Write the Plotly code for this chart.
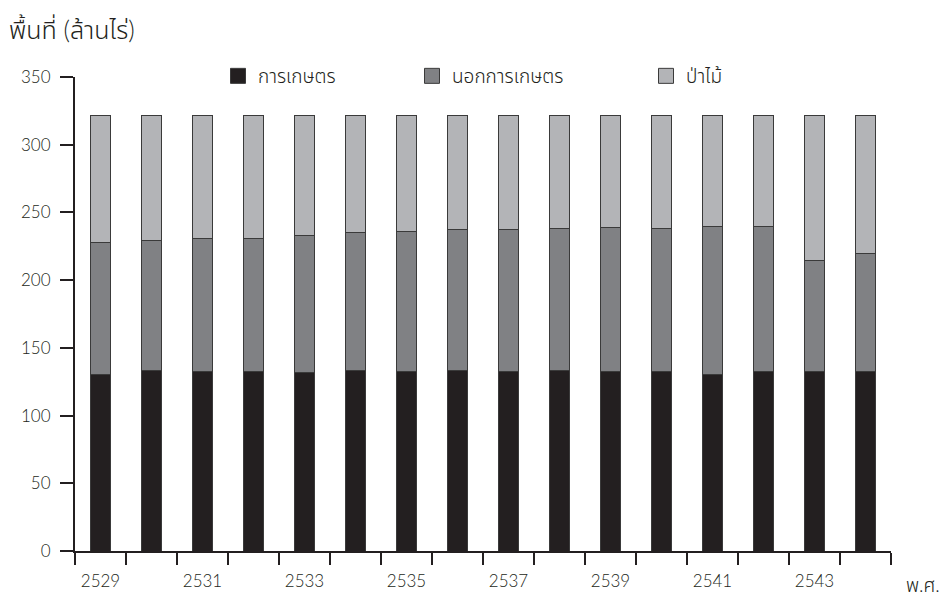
import plotly.graph_objects as go

years = [str(y) for y in range(2529, 2545)]
tick_labels = [y if i % 2 == 0 else "" for i, y in enumerate(years)]

agri = [130.4, 133.1, 132.3, 132.3, 131.9, 133.4, 132.3, 133.4,
        132.3, 133.6, 132.3, 132.3, 130.4, 132.3, 132.3, 132.3]
nonagri = [97.1, 95.9, 98.2, 98.2, 101.3, 101.5, 103.6, 103.7,
           104.8, 104.5, 106.6, 105.8, 109.4, 107.5, 81.9, 87.1]
forest = [94.0, 92.5, 91.0, 91.0, 88.3, 86.6, 85.6, 84.4,
          84.4, 83.4, 82.6, 83.4, 81.7, 81.7, 107.3, 102.1]

names = ["การเกษตร", "นอกการเกษตร", "ป่าไม้"]
colors = ["#231f20", "#808184", "#b3b4b7"]
series = [agri, nonagri, forest]

FONT = ("Lato, 'Noto Sans Thai', 'Noto Sans Thai UI', Loma, Garuda, Umpush, "
        "Sarabun, 'Noto Sans', sans-serif")
INK = "#231f20"
EDGE = "#3a3a3a"
W8 = 300

fig = go.Figure()
for nm, col, vals in zip(names, colors, series):
    fig.add_trace(go.Bar(x=years, y=vals, name=nm, showlegend=False,
                         hoverinfo="skip",
                         marker=dict(color=col, line=dict(color=EDGE, width=1))))

legend_ids = ["legend", "legend2", "legend3"]
for nm, col, lg in zip(names, colors, legend_ids):
    fig.add_trace(go.Scatter(x=[None], y=[None], mode="markers", name=nm,
                             legend=lg, showlegend=True,
                             marker=dict(symbol="square", size=15, color=col,
                                         line=dict(color=EDGE, width=1))))

L, R, T, B = 75, 52, 77, 51
W, H = 943, 602
pw = W - L - R
ph = H - T - B

def px_x(p):
    return (p - L) / pw

def px_y(p):
    return (H - B - p) / ph

leg_common = dict(orientation="h", yanchor="middle", xanchor="left",
                  bgcolor="rgba(0,0,0,0)", itemsizing="trace",
                  font=dict(family=FONT, size=19, color=INK, weight=W8))
sq_x = [230, 424, 658]

layout_legends = {}
for lg, sx in zip(legend_ids, sq_x):
    layout_legends[lg] = dict(leg_common, x=px_x(sx - 12), y=px_y(76))

fig.update_layout(
    width=W, height=H,
    margin=dict(l=L, r=R, t=T, b=B),
    paper_bgcolor="white", plot_bgcolor="white",
    barmode="stack", bargap=0.59,
    font=dict(family=FONT, size=17, color=INK, weight=W8),
    **layout_legends,
)

fig.update_xaxes(
    type="category", tickmode="array", tickvals=years, ticktext=tick_labels,
    tickson="boundaries", ticks="outside", ticklen=12, tickwidth=2,
    tickcolor=INK, showline=True, linecolor=INK, linewidth=2,
    showgrid=False, zeroline=False, ticklabelstandoff=14,
    range=[-0.5, 15.5], tickfont=dict(family=FONT, size=17, color=INK, weight=W8),
)
fig.update_yaxes(
    range=[0, 350], dtick=50, tick0=0, ticks="outside", ticklen=13,
    tickwidth=2, tickcolor=INK, showline=True, linecolor=INK, linewidth=2,
    showgrid=False, zeroline=False, ticklabelstandoff=6,
    tickfont=dict(family=FONT, size=17, color=INK, weight=W8),
)

fig.add_shape(type="line", xref="paper", yref="paper",
              x0=px_x(65), x1=0, y0=0, y1=0,
              line=dict(color=INK, width=2))

fig.add_annotation(text="พื้นที่ (ล้านไร่)", xref="paper", yref="paper",
                   x=px_x(7), y=px_y(29), xanchor="left", yanchor="middle",
                   showarrow=False,
                   font=dict(family=FONT, size=25, color=INK, weight=W8))
fig.add_annotation(text="พ.ศ.", xref="paper", yref="paper",
                   x=px_x(904), y=px_y(584), xanchor="left", yanchor="middle",
                   showarrow=False,
                   font=dict(family=FONT, size=19, color=INK, weight=W8))

fig.write_html("out.html",
               config={"displayModeBar": False},
               post_script="document.body.style.margin='0';"
                           "document.body.style.padding='0';")
